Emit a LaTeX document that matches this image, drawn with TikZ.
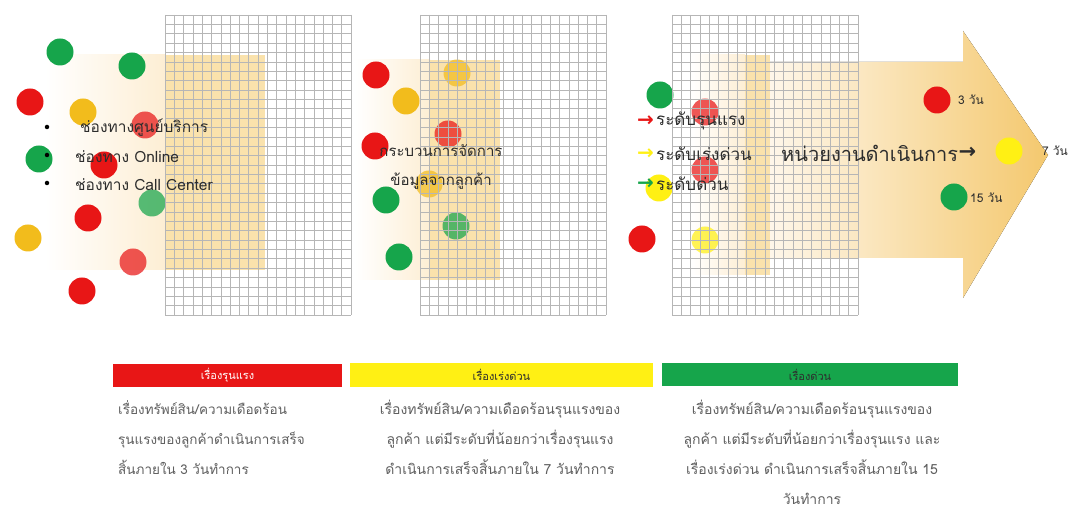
\documentclass[tikz,border=0pt]{standalone}
\usepackage{fontspec}
\newfontfamily\thai[Script=Thai]{Loma}
\newfontfamily\dejavu{DejaVu Sans}
\definecolor{cred}{RGB}{232,22,22}
\definecolor{cgreen}{RGB}{22,165,75}
\definecolor{camber}{RGB}{242,188,28}
\definecolor{cyellow}{RGB}{255,240,20}
\definecolor{glowA}{RGB}{253,238,212}
\definecolor{glowB}{RGB}{250,226,172}
\definecolor{arrowC}{RGB}{244,200,110}
\definecolor{gridc}{RGB}{182,182,182}
\definecolor{txt}{RGB}{45,45,45}
\definecolor{desc}{RGB}{95,95,95}
\tikzset{
  dot/.style={circle, inner sep=0pt, minimum size=27pt, draw=none},
  faded/.style={opacity=0.72},
  gridline/.style={draw=gridc, line width=0.5pt},
  listtxt/.style={font=\thai\fontsize{15.5}{17}\selectfont, text=txt, anchor=west, inner sep=0pt},
  lvltxt/.style={font=\thai\fontsize{17}{19}\selectfont, text=txt, anchor=west, inner sep=0pt},
  daytxt/.style={font=\thai\fontsize{12}{14}\selectfont, text=txt, anchor=west, inner sep=0pt},
  bar/.style={inner sep=0pt, minimum height=23pt, font=\thai\fontsize{11}{13}\selectfont},
  desctxt/.style={font=\thai\fontsize{14}{30}\selectfont, text=desc, inner sep=0pt, anchor=north},
  arrowglyph/.style={font=\dejavu\bfseries\fontsize{20}{22}\selectfont, anchor=east, inner sep=0pt, xshift=-2pt}
}
\begin{document}
\begin{tikzpicture}[x=1pt,y=-1pt]
\useasboundingbox (0,0) rectangle (1080,510);
\fill[white] (0,0) rectangle (1080,510);
% glows
\fill[left color=white, right color=glowA] (45,55) rectangle (165,270);
\fill[glowB] (165,55) rectangle (265,270);
\fill[left color=white, right color=glowA] (355,60) rectangle (430,280);
\fill[glowB] (430,60) rectangle (500,280);
\fill[left color=white, right color=glowA] (690,55) rectangle (745,275);
\fill[glowB] (745,55) rectangle (770,275);
\fill[left color=glowA!50, right color=arrowC] (770,62) -- (963,62) -- (963,31) -- (1048,155) -- (963,298) -- (963,258) -- (770,258) -- cycle;
% panel 1 circles
\node[dot, fill=cgreen] (g1) at (60,52) {};
\node[dot, fill=cgreen] (g2) at (132,66) {};
\node[dot, fill=cred] (r1) at (30,102) {};
\node[dot, fill=camber] (a1) at (83,112) {};
\node[dot, fill=cred, faded] (r2) at (145,125) {};
\node[dot, fill=cgreen] (g3) at (39,159) {};
\node[dot, fill=cred] (r3) at (104,165) {};
\node[dot, fill=cgreen, faded] (g4) at (152,203) {};
\node[dot, fill=cred] (r4) at (88,218) {};
\node[dot, fill=camber] (a2) at (28,238) {};
\node[dot, fill=cred, faded] (r5) at (133,262) {};
\node[dot, fill=cred] (r6) at (82,291) {};
% panel 2 circles
\node[dot, fill=cred] (r7) at (376,75) {};
\node[dot, fill=camber, faded] (a3) at (457,73) {};
\node[dot, fill=camber] (a4) at (406,101) {};
\node[dot, fill=cred, faded] (r8) at (448,134) {};
\node[dot, fill=cred] (r9) at (375,146) {};
\node[dot, fill=camber, faded] (a5) at (429,184) {};
\node[dot, fill=cgreen] (g5) at (386,200) {};
\node[dot, fill=cgreen, faded] (g6) at (456,226) {};
\node[dot, fill=cgreen] (g7) at (399,257) {};
% panel 3 circles
\node[dot, fill=cgreen] (g8) at (660,95) {};
\node[dot, fill=cred, faded] (r10) at (705,112) {};
\node[dot, fill=cred, faded] (r11) at (705,170) {};
\node[dot, fill=cyellow] (y1) at (659,188) {};
\node[dot, fill=cred] (r12) at (642,239) {};
\node[dot, fill=cyellow, faded] (y2) at (705,240) {};
% grids
\foreach \gx in {165,420,672}{
  \foreach \i in {0,...,20} \draw[gridline] (\gx+\i*9.3,15) -- (\gx+\i*9.3,315);
  \foreach \j in {0,...,32} \draw[gridline] (\gx,15+\j*9.375) -- (\gx+186,15+\j*9.375);
}
% final circles on arrow
\node[dot, fill=cred] (r13) at (937,100) {};
\node[dot, fill=cyellow] (y3) at (1009,151) {};
\node[dot, fill=cgreen] (g9) at (954,197) {};
% left list
\node[circle, fill=black, inner sep=0pt, minimum size=4.5pt] (b1) at (47,127) {};
\node[circle, fill=black, inner sep=0pt, minimum size=4.5pt] (b2) at (47,155) {};
\node[circle, fill=black, inner sep=0pt, minimum size=4.5pt] (b3) at (47,183) {};
\node[listtxt] (l1) at (80,128) {ช่องทางศูนย์บริการ};
\node[listtxt] (l2) at (75,157) {ช่องทาง Online};
\node[listtxt] (l3) at (75,185) {ช่องทาง Call Center};
% panel 2 text
\node[font=\thai\fontsize{15}{29}\selectfont, text=txt, align=center, inner sep=0pt] (p2) at (441,167) {กระบวนการจัดการ\\ข้อมูลจากลูกค้า};
% panel 3 levels
\node[lvltxt] (v1) at (656,121) {ระดับรุนแรง};
\node[lvltxt] (v2) at (656,154) {ระดับเร่งด่วน};
\node[lvltxt] (v3) at (656,184) {ระดับด่วน};
\node[arrowglyph, text=cred] (ar1) at (v1.west) {→};
\node[arrowglyph, text=cyellow] (ar2) at (v2.west) {→};
\node[arrowglyph, text=cgreen] (ar3) at (v3.west) {→};
\node[font=\thai\fontsize{20}{22}\selectfont, text=txt, anchor=west, inner sep=0pt] (unit) at (781,153) {หน่วยงานดำเนินการ};
\node[font=\dejavu\bfseries\fontsize{21}{22}\selectfont, text=txt, anchor=west, inner sep=0pt] (unitar) at (unit.east) {→};
\node[daytxt] (d3) at (958,100) {3 วัน};
\node[daytxt] (d7) at (1042,151) {7 วัน};
\node[daytxt] (d15) at (970,198) {15 วัน};
% bars
\node[bar, fill=cred, text=white, minimum width=229pt] (bar1) at (227.5,375.5) {เรื่องรุนแรง};
\node[bar, fill=cyellow, text=txt, minimum width=303pt, minimum height=24pt] (bar2) at (501.5,375) {เรื่องเร่งด่วน};
\node[bar, fill=cgreen, text=txt, minimum width=296pt] (bar3) at (810,374.5) {เรื่องด่วน};
% descriptions
\node[desctxt, align=left, anchor=north west, font=\thai\fontsize{13.5}{30}\selectfont] (t1) at (118,400) {เรื่องทรัพย์สิน/ความเดือดร้อน\\รุนแรงของลูกค้าดำเนินการเสร็จ\\สิ้นภายใน 3 วันทำการ};
\node[desctxt, align=center] (t2) at (500,400) {เรื่องทรัพย์สิน/ความเดือดร้อนรุนแรงของ\\ลูกค้า แต่มีระดับที่น้อยกว่าเรื่องรุนแรง\\ดำเนินการเสร็จสิ้นภายใน 7 วันทำการ};
\node[desctxt, align=center] (t3) at (812,400) {เรื่องทรัพย์สิน/ความเดือดร้อนรุนแรงของ\\ลูกค้า แต่มีระดับที่น้อยกว่าเรื่องรุนแรง และ\\เรื่องเร่งด่วน ดำเนินการเสร็จสิ้นภายใน 15\\วันทำการ};
\end{tikzpicture}
\end{document}
